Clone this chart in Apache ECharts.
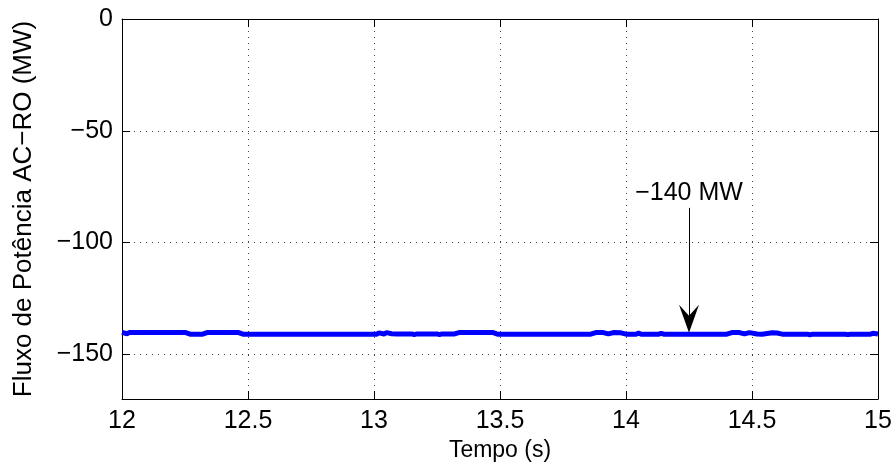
<!DOCTYPE html>
<html><head><meta charset="utf-8">
<script src="https://cdn.jsdelivr.net/npm/echarts@6/dist/echarts.min.js"></script>
<style>html,body{margin:0;padding:0;background:#fff}#c{width:896px;height:469px}</style>
</head><body><div id="c"></div>
<script>
// Time (s) and power flow AC-RO (MW)
const time = [12.00, 12.02, 12.03, 12.05, 12.25, 12.27, 12.32, 12.34, 12.46, 12.48,
  13.01, 13.02, 13.04, 13.05, 13.07, 13.09, 13.15, 13.16, 13.17, 13.25, 13.26, 13.27,
  13.32, 13.34, 13.47, 13.49, 13.86, 13.88, 13.91, 13.93, 13.95, 13.98, 14.00,
  14.04, 14.05, 14.06, 14.13, 14.14, 14.15, 14.40, 14.42, 14.45, 14.47, 14.49,
  14.52, 14.54, 14.58, 14.60, 14.62, 14.72, 14.73, 14.74, 14.87, 14.88, 14.89,
  14.97, 14.98, 15.00];
const power = [-140.2, -140.8, -140.2, -140.2, -140.2, -141.0, -141.0, -140.2, -140.2, -141.0,
  -141.0, -140.4, -140.9, -140.3, -140.8, -140.9, -140.9, -141.2, -140.9, -140.9, -141.2, -140.9,
  -140.9, -140.2, -140.2, -141.0, -141.0, -140.3, -140.3, -140.9, -140.3, -140.4, -141.0,
  -141.0, -140.5, -141.0, -141.0, -140.6, -141.0, -141.0, -140.3, -140.3, -140.9, -140.3,
  -140.9, -141.0, -140.4, -140.5, -141.0, -141.0, -141.3, -141.0, -141.0, -141.2, -141.0,
  -141.0, -140.6, -140.9];
const xTicks = [12, 12.5, 13, 13.5, 14, 14.5, 15];
const yTicks = [-150, -100, -50, 0];
const annotationText = '\u2212140 MW';
const arrowX = 14.25;
const arrowFrom = -84.5;
const arrowHeadCenter = -134.1;
const annotationY = -78.1;

const FONT = 'Liberation Sans';
const minus = v => String(v).replace('-', '\u2212');
const gridLine = { show: true, lineStyle: { color: '#444', width: 1, type: [1, 5] } };
const arrowPath = 'path://M0,0 L10,11 L20,0 L10,28 Z';

const chart = echarts.init(document.getElementById('c'), null, { renderer: 'canvas' });
chart.setOption({
  animation: false,
  backgroundColor: '#fff',
  grid: { left: 122, right: 18, top: 19, bottom: 70 },
  xAxis: [{
    type: 'value', min: 12, max: 15, interval: 0.5, position: 'bottom',
    name: 'Tempo (s)', nameLocation: 'middle', nameGap: 40,
    nameTextStyle: { fontFamily: FONT, fontSize: 23, color: '#000' },
    axisLine: { show: true, onZero: false, lineStyle: { color: '#000', width: 1 } },
    axisTick: { show: true, inside: true, length: 8, lineStyle: { color: '#000' }, customValues: xTicks },
    axisLabel: { fontFamily: FONT, fontSize: 25, color: '#000', margin: 10, customValues: xTicks, formatter: v => minus(v) },
    splitLine: gridLine
  }, {
    type: 'value', min: 12, max: 15, interval: 0.5, position: 'top',
    axisLine: { show: true, onZero: false, lineStyle: { color: '#000', width: 1 } },
    axisTick: { show: true, inside: true, length: 8, lineStyle: { color: '#000' }, customValues: xTicks },
    axisLabel: { show: false },
    splitLine: { show: false }
  }],
  yAxis: [{
    type: 'value', min: -170, max: 0, position: 'left',
    name: 'Fluxo de Pot\u00eancia AC\u2212RO (MW)', nameLocation: 'middle', nameGap: 85,
    nameTextStyle: { fontFamily: FONT, fontSize: 26, color: '#000' },
    axisLine: { show: true, onZero: false, lineStyle: { color: '#000', width: 1 } },
    axisTick: { show: true, inside: true, length: 8, lineStyle: { color: '#000' }, customValues: yTicks },
    axisLabel: { fontFamily: FONT, fontSize: 25, color: '#000', margin: 9, customValues: yTicks, formatter: v => minus(v) },
    splitLine: gridLine
  }, {
    type: 'value', min: -170, max: 0, position: 'right',
    axisLine: { show: true, onZero: false, lineStyle: { color: '#000', width: 1 } },
    axisTick: { show: true, inside: true, length: 8, lineStyle: { color: '#000' }, customValues: yTicks },
    axisLabel: { show: false },
    splitLine: { show: false }
  }],
  series: [{
    type: 'line',
    xAxisIndex: 0, yAxisIndex: 0,
    data: time.map((t, i) => [t, power[i]]),
    showSymbol: false,
    lineStyle: { color: '#0000ff', width: 5 },
    z: 3,
    markLine: {
      silent: true,
      symbol: ['none', 'none'],
      lineStyle: { color: '#000', width: 1, type: 'solid' },
      label: { show: false },
      data: [[{ coord: [arrowX, arrowFrom] }, { coord: [arrowX, arrowHeadCenter] }]]
    },
    markPoint: {
      silent: true,
      itemStyle: { color: '#000' },
      data: [
        { coord: [arrowX, annotationY], symbol: 'circle', symbolSize: 0,
          label: { show: true, position: 'inside', formatter: annotationText, fontFamily: FONT, fontSize: 25, color: '#000', align: 'center', verticalAlign: 'middle' } },
        { coord: [arrowX, arrowHeadCenter], symbol: arrowPath, symbolSize: [20, 28], symbolKeepAspect: false,
          itemStyle: { color: '#000' }, label: { show: false } }
      ]
    }
  }]
});
</script>
</body></html>
